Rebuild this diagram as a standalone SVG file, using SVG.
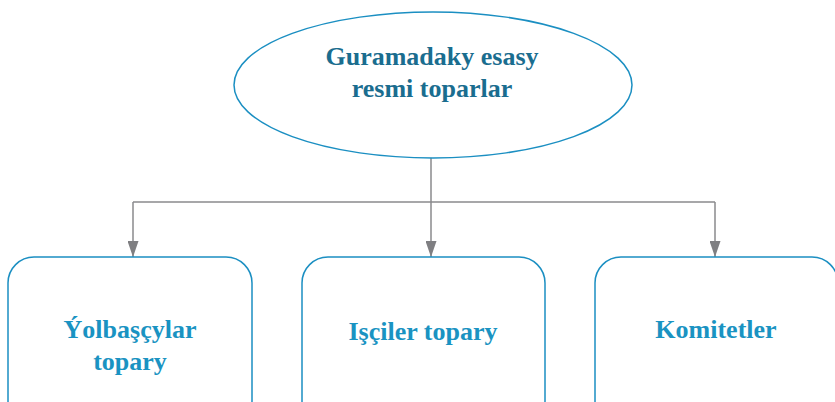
<svg xmlns="http://www.w3.org/2000/svg" width="835" height="402" viewBox="0 0 835 402">
<defs>
<style>
.node{fill:#ffffff;stroke:#1b8fc2;stroke-width:1.5}
text{font-family:"Liberation Serif","Times New Roman",Times,"Nimbus Roman","Noto Serif","DejaVu Serif",FreeSerif,serif;font-weight:bold;font-size:26px;text-anchor:middle}
.t1{fill:#1a6d8f}
.t2{fill:#1a93c2}
.conn{fill:none;stroke:#8a8a8c;stroke-width:1.5}
</style>
<marker id="arr" viewBox="0 0 16 11" refX="16" refY="5.5" markerWidth="16" markerHeight="11" markerUnits="userSpaceOnUse" orient="auto">
<path d="M0,0 L16,5.5 L0,11 z" fill="#7f7f82"/>
</marker>
</defs>
<rect width="835" height="402" fill="#ffffff"/>
<g id="connectors">
<path class="conn" d="M431,158 V202"/>
<path class="conn" d="M133,202 H715"/>
<path class="conn" d="M133,202 V257" marker-end="url(#arr)"/>
<path class="conn" d="M431,202 V257" marker-end="url(#arr)"/>
<path class="conn" d="M715,202 V257" marker-end="url(#arr)"/>
</g>
<g id="root">
<ellipse class="node" cx="433" cy="85" rx="199" ry="73"/>
<text class="t1" x="432" y="65">Guramadaky esasy</text>
<text class="t1" x="432" y="97">resmi toparlar</text>
</g>
<g id="node-yolbascylar">
<rect class="node" x="8" y="257" width="244" height="170" rx="26"/>
<text class="t2" x="130" y="338">Ýolbaşçylar</text>
<text class="t2" x="130" y="370">topary</text>
</g>
<g id="node-isciler">
<rect class="node" x="302" y="257" width="243" height="170" rx="26"/>
<text class="t2" x="423" y="340">Işçiler topary</text>
</g>
<g id="node-komitetler">
<rect class="node" x="595" y="257" width="243" height="170" rx="26"/>
<text class="t2" x="716" y="338">Komitetler</text>
</g>
</svg>
